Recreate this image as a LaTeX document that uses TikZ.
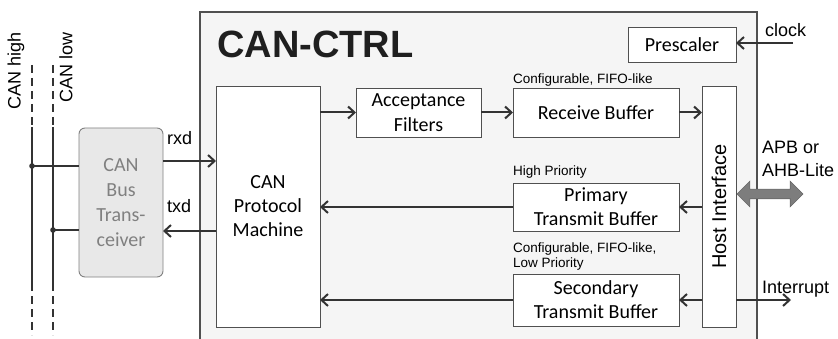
\documentclass[tikz,border=0pt]{standalone}
\usepackage{fontspec}
\setmainfont{Liberation Sans}
\newfontfamily\calfont{Carlito}
\usetikzlibrary{arrows.meta,shapes.arrows}
\definecolor{ln}{HTML}{333333}
\definecolor{bd}{HTML}{505050}
\definecolor{bus}{HTML}{7D7D7D}
\tikzset{
  blk/.style={draw=bd,line width=0.9pt,fill=white,inner sep=0pt,outer sep=0pt,
    font=\calfont\fontsize{20}{24}\selectfont,align=center},
  arr/.style={draw=ln,line width=2pt,-{Straight Barb[length=6.5pt,width=12pt,line width=2pt]}},
  busline/.style={draw=ln,line width=2.3pt},
  busd/.style={busline,dash pattern=on 8pt off 5pt},
  lbl/.style={font=\fontsize{18}{23}\selectfont,inner sep=0pt,align=left},
  small/.style={font=\fontsize{13.5}{14.5}\selectfont,inner sep=0pt,align=left,anchor=base west},
}
\begin{document}
\begin{tikzpicture}[x=1pt,y=-1pt]
\useasboundingbox (0,0) rectangle (838,339);
% big controller box
\fill[black!4] (200,339) -- (200,12) -- (757,12) -- (757,339) -- cycle;
\draw[bd,line width=1.3pt] (200,339) -- (200,12) -- (757,12) -- (757,339);
\node[anchor=base west,inner sep=0pt,font=\bfseries\fontsize{38}{40}\selectfont,text=black!88] (title) at (217,58) {CAN-CTRL};

% blocks
\node[blk,minimum width=104pt,minimum height=241pt] (pm) at (268,206.5) {CAN\\Protocol\\Machine};
\node[blk,minimum width=34pt,minimum height=241pt] (hi) at (719,206.5) {};
\node[rotate=90,font=\fontsize{20}{24}\selectfont,inner sep=0pt] (hil) at (hi.center) {Host Interface};
\node[blk,minimum width=125pt,minimum height=49pt,font=\calfont\fontsize{20}{25}\selectfont] (af) at (418.5,112.5) {Acceptance\\Filters};
\node[blk,minimum width=166pt,minimum height=49pt] (rb) at (596,112.5) {Receive Buffer};
\node[blk,minimum width=108pt,minimum height=35pt] (pre) at (682,44.5) {Prescaler};
\node[blk,minimum width=166pt,minimum height=48pt] (ptb) at (596,207) {Primary\\Transmit Buffer};
\node[blk,minimum width=166pt,minimum height=52pt] (stb) at (596,300) {Secondary\\Transmit Buffer};
\node[blk,draw=gray,fill=black!9,rounded corners=6pt,text=gray,minimum width=84pt,minimum height=149pt,font=\calfont\fontsize{20}{25}\selectfont] (tr) at (121,202.5) {CAN\\Bus\\Trans-\\ceiver};

% small labels
\node[small] (l1) at (513,84) {Configurable, FIFO-like};
\node[small] (l2) at (513,176) {High Priority};
\node[small] (l3) at (513,267) {Configurable, FIFO-like,\\Low Priority};

% internal arrows
\draw[arr] (pm.east |- af.west) -- (af.west);
\draw[arr] (af.east) -- (rb.west);
\draw[arr] (rb.east) -- (hi.west |- rb.east);
\draw[arr] (hi.west |- ptb.east) -- (ptb.east);
\draw[arr] (ptb.west) -- (pm.east |- ptb.west);
\draw[arr] (hi.west |- stb.east) -- (stb.east);
\draw[arr] (stb.west) -- (pm.east |- stb.west);

% clock
\coordinate (clk) at (793,43);
\draw[arr] (clk) -- (pre.east |- clk);
\node[lbl,anchor=base west] (clkl) at (765,37) {clock};

% bus interface
\node[double arrow,draw=black!60,fill=bus,line width=0.6pt,
  minimum height=66pt,minimum width=25pt,inner sep=4.5pt,
  double arrow head extend=8pt] (bus) at (770,194) {};
\node[lbl,anchor=base west] (apb) at (762,177) {APB or\\AHB-Lite};

% interrupt
\coordinate (irq) at (791,300);
\draw[arr] (hi.east |- irq) -- (irq);
\node[lbl,anchor=base west] (irql) at (762,293) {Interrupt};

% rxd / txd
\coordinate (rx) at (0,161);
\coordinate (tx) at (0,231);
\draw[arr] (tr.east |- rx) -- (pm.west |- rx);
\draw[arr] (pm.west |- tx) -- (tr.east |- tx);
\node[lbl,anchor=base west] (rxl) at (167,145) {rxd};
\node[lbl,anchor=base west] (txl) at (167,213) {txd};

% CAN bus lines
\draw[busd] (32,65) -- (32,127);
\draw[busline] (32,127) -- (32,283);
\draw[busd] (32,283) -- (32,335);
\draw[busd] (53,65) -- (53,127);
\draw[busline] (53,127) -- (53,283);
\draw[busd] (53,283) -- (53,335);
\coordinate (hd) at (32,166);
\coordinate (ld) at (53,230);
\fill[ln] (hd) circle (2.8pt);
\fill[ln] (ld) circle (2.8pt);
\draw[busline] (hd) -- (tr.west |- hd);
\draw[busline] (ld) -- (tr.west |- ld);
\node[lbl,rotate=90] (chl) at (16,71) {CAN high};
\node[lbl,rotate=90] (cll) at (66,67) {CAN low};
\end{tikzpicture}
\end{document}
